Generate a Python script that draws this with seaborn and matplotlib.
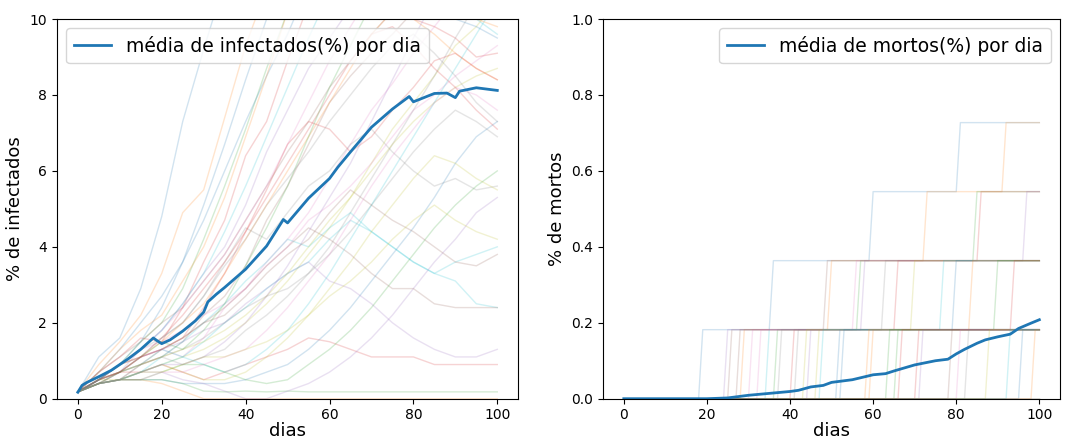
import numpy as np
import pandas as pd
import matplotlib
matplotlib.use("Agg")
import matplotlib.pyplot as plt
import seaborn as sns

# dias amostrados das simulacoes (de 5 em 5)
dias_amostra = list(range(0, 101, 5))

# % de infectados em cada simulacao (de 5 em 5 dias)
runs_infectados = [
    [0.18, 1.1, 1.6, 2.9, 4.8, 7.3, 9.2, 11.0, 12.5, 13.5, 14.0, 14.5, 14.0, 13.5, 13.0, 12.5, 12.5, 12.0, 12.0, 11.5, 11.5],
    [0.18, 0.9, 1.5, 2.2, 3.3, 4.9, 5.5, 7.4, 9.3, 10.8, 12.0, 12.5, 13.0, 12.5, 12.0, 12.0, 11.5, 11.0, 11.0, 10.5, 10.5],
    [0.18, 0.5, 0.9, 1.5, 2.0, 2.9, 4.2, 5.6, 7.1, 8.7, 10.2, 11.5, 12.0, 12.0, 11.5, 11.0, 11.0, 10.5, 10.5, 10.0, 10.2],
    [0.18, 0.7, 1.1, 1.6, 1.5, 2.4, 3.6, 4.7, 6.4, 7.3, 8.9, 10.4, 11.2, 11.5, 11.0, 10.5, 10.0, 9.8, 9.5, 9.0, 9.1],
    [0.18, 0.5, 0.7, 1.3, 1.8, 2.5, 3.3, 4.0, 5.1, 6.5, 7.6, 8.7, 9.5, 10.3, 11.0, 11.5, 11.0, 10.5, 10.5, 10.0, 10.0],
    [0.18, 0.4, 0.5, 0.9, 1.1, 1.5, 2.2, 2.7, 3.5, 4.7, 5.6, 6.7, 7.8, 8.5, 9.1, 9.6, 10.2, 10.7, 11.0, 11.0, 11.3],
    [0.18, 0.4, 0.7, 1.1, 1.3, 1.1, 1.6, 2.4, 2.9, 3.6, 4.2, 4.9, 5.8, 6.7, 7.6, 8.3, 9.1, 9.8, 10.5, 11.0, 11.5],
    [0.18, 0.5, 0.9, 1.3, 1.6, 2.0, 2.7, 3.6, 4.5, 4.2, 4.9, 5.6, 6.0, 6.7, 7.1, 6.5, 6.0, 5.6, 5.8, 5.5, 5.6],
    [0.18, 0.4, 0.5, 0.7, 0.9, 1.1, 1.3, 1.6, 2.0, 2.5, 3.1, 3.8, 4.5, 5.3, 6.2, 7.1, 7.8, 8.5, 9.3, 9.8, 10.5],
    [0.18, 0.5, 0.7, 0.9, 1.3, 1.1, 1.5, 2.0, 2.4, 2.9, 3.3, 3.6, 4.2, 4.7, 4.4, 4.0, 3.6, 3.3, 3.1, 2.5, 2.4],
    [0.18, 0.4, 0.5, 0.5, 0.5, 0.4, 0.4, 0.4, 0.5, 0.7, 0.9, 1.3, 1.8, 2.4, 3.1, 3.8, 4.5, 5.3, 6.2, 6.9, 7.3],
    [0.18, 0.4, 0.5, 0.5, 0.4, 0.2, 0.0, 0.0, 0.0, 0.0, 0.0, 0.0, 0.0, 0.0, 0.0, 0.0, 0.0, 0.0, 0.0, 0.0, 0.0],
    [0.18, 0.4, 0.5, 0.5, 0.5, 0.4, 0.2, 0.18, 0.2, 0.18, 0.2, 0.18, 0.18, 0.18, 0.18, 0.18, 0.18, 0.18, 0.18, 0.18, 0.18],
    [0.18, 0.5, 0.7, 0.7, 0.9, 0.7, 0.5, 0.7, 0.9, 1.1, 1.3, 1.6, 1.5, 1.3, 1.1, 1.1, 1.1, 0.9, 0.9, 0.9, 0.9],
    [0.18, 0.5, 0.9, 1.1, 1.3, 1.5, 1.8, 2.0, 2.5, 2.9, 3.3, 3.6, 3.1, 2.9, 2.5, 2.0, 1.6, 1.3, 1.1, 1.1, 1.3],
    [0.18, 0.7, 1.1, 1.5, 2.0, 2.4, 3.1, 3.8, 4.7, 5.6, 6.5, 7.3, 8.2, 8.9, 9.6, 10.2, 10.9, 11.5, 12.0, 12.0, 12.2],
    [0.18, 0.5, 0.9, 1.3, 1.5, 1.8, 2.2, 2.5, 2.9, 3.5, 4.0, 4.7, 5.1, 5.6, 6.2, 6.9, 7.6, 8.0, 8.5, 8.9, 9.3],
    [0.18, 0.4, 0.7, 0.9, 1.1, 0.9, 1.1, 1.3, 1.8, 2.2, 2.7, 3.3, 4.0, 4.9, 5.8, 6.7, 7.6, 8.5, 9.5, 10.4, 11.3],
    [0.18, 0.5, 0.5, 0.7, 0.9, 0.7, 0.5, 0.5, 0.7, 1.1, 1.6, 2.2, 2.9, 3.6, 4.4, 5.1, 5.8, 6.4, 6.2, 5.8, 5.5],
    [0.18, 0.4, 0.5, 0.7, 1.1, 1.5, 2.0, 2.5, 3.1, 3.6, 4.2, 4.0, 4.5, 4.9, 4.4, 4.0, 3.6, 3.3, 3.6, 3.8, 4.0],
    [0.18, 0.7, 1.3, 2.0, 2.7, 3.6, 4.7, 6.0, 7.3, 8.5, 9.6, 10.9, 11.5, 12.0, 12.0, 11.5, 11.0, 10.5, 10.0, 9.8, 9.5],
    [0.18, 0.5, 0.9, 1.1, 1.5, 2.0, 2.5, 3.3, 4.2, 5.1, 6.0, 6.9, 7.8, 8.7, 9.6, 10.2, 10.0, 9.6, 9.1, 8.7, 8.4],
    [0.18, 0.4, 0.5, 0.5, 0.7, 0.9, 0.9, 0.7, 0.5, 0.4, 0.5, 0.9, 1.3, 1.8, 2.4, 3.1, 3.8, 4.5, 5.1, 5.6, 6.0],
    [0.18, 0.5, 0.7, 1.1, 1.6, 2.2, 2.9, 3.6, 4.4, 5.3, 6.2, 7.1, 8.0, 8.9, 9.6, 9.8, 9.3, 8.7, 8.2, 7.6, 7.1],
    [0.18, 0.4, 0.5, 0.7, 0.7, 0.5, 0.4, 0.2, 0.0, 0.0, 0.2, 0.4, 0.7, 1.1, 1.6, 2.2, 2.9, 3.6, 4.2, 4.9, 5.3],
    [0.18, 0.4, 0.7, 0.9, 1.3, 1.6, 2.0, 2.4, 2.9, 3.5, 4.0, 4.5, 4.2, 3.8, 3.3, 2.9, 2.9, 2.5, 2.4, 2.4, 2.4],
    [0.18, 0.5, 0.9, 1.3, 1.8, 2.4, 3.1, 3.8, 4.7, 5.6, 6.7, 7.8, 8.9, 9.8, 10.7, 11.5, 12.0, 12.0, 11.5, 11.0, 11.0],
    [0.18, 0.4, 0.5, 0.9, 1.1, 1.3, 1.6, 2.0, 2.4, 2.7, 2.9, 3.3, 3.8, 4.4, 5.1, 5.8, 6.5, 7.1, 7.6, 7.3, 6.9],
    [0.18, 0.5, 0.7, 0.9, 1.1, 1.3, 1.5, 1.8, 2.2, 2.7, 3.3, 4.0, 4.7, 5.3, 6.0, 6.7, 7.3, 7.8, 8.2, 8.5, 8.7],
    [0.18, 0.4, 0.5, 0.7, 0.9, 1.1, 0.9, 0.7, 0.9, 1.3, 1.8, 2.5, 3.3, 4.2, 5.1, 6.0, 6.9, 7.8, 8.7, 9.6, 10.5],
    [0.18, 0.5, 0.9, 1.5, 2.4, 3.6, 5.1, 6.7, 8.4, 10.0, 11.5, 12.5, 13.0, 12.5, 12.0, 11.5, 11.0, 11.0, 10.5, 10.5, 10.0],
    [0.18, 0.7, 1.3, 1.8, 2.2, 3.1, 4.0, 5.3, 6.9, 8.5, 10.2, 11.8, 12.5, 12.0, 11.5, 11.0, 10.5, 10.5, 10.0, 10.0, 9.8],
    [0.18, 0.4, 0.7, 1.1, 1.5, 1.3, 1.8, 2.5, 3.5, 4.5, 5.6, 6.9, 8.2, 9.3, 10.4, 11.5, 12.0, 11.5, 11.0, 10.5, 10.4],
    [0.18, 0.5, 0.7, 1.1, 1.3, 1.6, 2.4, 3.3, 4.4, 5.5, 6.7, 7.3, 7.1, 6.5, 6.9, 7.6, 8.2, 8.9, 9.1, 8.7, 8.4],
    [0.18, 0.4, 0.5, 0.7, 0.9, 0.9, 1.1, 1.5, 2.0, 2.7, 3.5, 4.4, 5.3, 6.2, 7.3, 8.4, 9.5, 10.5, 11.3, 12.0, 12.5],
    [0.18, 0.5, 0.9, 1.1, 1.3, 1.6, 2.0, 2.2, 2.7, 3.3, 3.8, 4.2, 4.9, 5.5, 5.1, 4.7, 4.4, 4.0, 3.6, 3.5, 3.8],
    [0.18, 0.4, 0.5, 0.5, 0.7, 0.7, 0.9, 1.1, 1.3, 1.8, 2.4, 3.1, 3.8, 4.7, 5.6, 6.4, 7.1, 7.8, 8.2, 8.0, 7.6],
    [0.18, 0.5, 0.7, 1.1, 1.6, 2.0, 2.7, 3.5, 4.2, 5.1, 5.8, 6.5, 7.3, 8.0, 8.7, 9.3, 9.6, 9.1, 8.5, 7.8, 7.3],
    [0.18, 0.4, 0.5, 0.7, 0.7, 0.9, 1.1, 1.1, 1.3, 1.5, 1.8, 2.2, 2.7, 3.1, 3.6, 4.2, 4.7, 5.1, 4.7, 4.4, 4.2],
    [0.18, 0.5, 0.9, 1.3, 1.8, 2.5, 3.3, 4.4, 5.6, 6.9, 8.2, 9.5, 10.7, 11.5, 12.0, 12.0, 11.5, 11.0, 10.5, 10.0, 9.6],
]

# media de infectados(%) por dia
media_inf_dias = [0, 1, 2, 5, 8, 10, 12, 15, 17, 18, 19, 20, 22, 25, 28, 30, 31, 33, 35, 40, 45,
                  49, 50, 55, 60, 62, 65, 70, 75, 79, 80, 85, 88, 90, 91, 95, 100]
media_inf = [0.17, 0.35, 0.42, 0.58, 0.75, 0.9, 1.05, 1.3, 1.5, 1.6, 1.52, 1.45, 1.55, 1.78, 2.05, 2.28,
             2.55, 2.75, 2.93, 3.41, 4.02, 4.72, 4.63, 5.28, 5.8, 6.1, 6.5, 7.15, 7.63, 7.96, 7.82,
             8.04, 8.05, 7.93, 8.1, 8.19, 8.12]

# dias em que ocorreu cada morte, por simulacao (1 morte = 0.18%)
dias_mortes = [
    [19, 36, 60, 81], [29, 50, 73, 92], [37, 57, 85], [41, 66, 86], [45, 58, 97],
    [26, 49], [31, 56], [42, 63], [47, 70], [35, 77], [52, 80], [60, 84], [66, 90], [71, 94],
    [25], [28], [33], [38], [44], [48], [53], [59], [64], [67], [72], [79], [81], [83],
    [88], [93], [96], [99], [], [], [], [], [], [], [], [],
]
pct_por_morte = 0.1818

# media de mortos(%) por dia
media_mor_dias = [0, 20, 25, 30, 35, 40, 42, 45, 48, 50, 55, 60, 63, 65, 70, 75, 78, 80, 82, 85,
                  87, 90, 93, 95, 98, 100]
media_mor = [0.0, 0.0, 0.002, 0.009, 0.014, 0.019, 0.022, 0.031, 0.035, 0.043, 0.05, 0.063, 0.066,
             0.073, 0.089, 0.10, 0.104, 0.118, 0.13, 0.146, 0.155, 0.163, 0.17, 0.185, 0.199, 0.208]

# tabelas longas para o seaborn
linhas = []
for i, run in enumerate(runs_infectados):
    for d, v in zip(dias_amostra, run):
        linhas.append({"run": i, "dia": d, "pct": v})
df_inf = pd.DataFrame(linhas)

dias = np.arange(0, 101)
linhas = []
for i, mortes in enumerate(dias_mortes):
    for d in dias:
        n = sum(1 for m in mortes if m <= d)
        linhas.append({"run": i, "dia": d, "pct": n * pct_por_morte})
df_mor = pd.DataFrame(linhas)

cores = sns.color_palette("tab10")

fig = plt.figure(figsize=(10.73, 4.43), dpi=100)
ax1 = fig.add_axes([0.053, 0.100, 0.430, 0.857])
ax2 = fig.add_axes([0.562, 0.100, 0.426, 0.857])

sns.lineplot(data=df_inf, x="dia", y="pct", hue="run", palette=cores * 4,
             alpha=0.2, linewidth=1, legend=False, ax=ax1)
sns.lineplot(x=media_inf_dias, y=media_inf, color=cores[0], linewidth=2,
             label="média de infectados(%) por dia", ax=ax1)
ax1.set_ylim(0, 10)
ax1.set_xlim(-5, 105)
ax1.set_xlabel("dias", fontsize=13, labelpad=0)
ax1.set_ylabel("% de infectados", fontsize=13)
ax1.legend(loc="upper left", fontsize=13.5)

sns.lineplot(data=df_mor, x="dia", y="pct", hue="run", palette=cores * 4,
             alpha=0.2, linewidth=1, legend=False, ax=ax2)
sns.lineplot(x=media_mor_dias, y=media_mor, color=cores[0], linewidth=2,
             label="média de mortos(%) por dia", ax=ax2)
ax2.set_ylim(0, 1.0)
ax2.set_xlim(-5, 105)
ax2.set_xlabel("dias", fontsize=13, labelpad=0)
ax2.set_ylabel("% de mortos", fontsize=13)
ax2.legend(loc="upper right", fontsize=13.5)

fig.savefig("out.png", dpi=100)
